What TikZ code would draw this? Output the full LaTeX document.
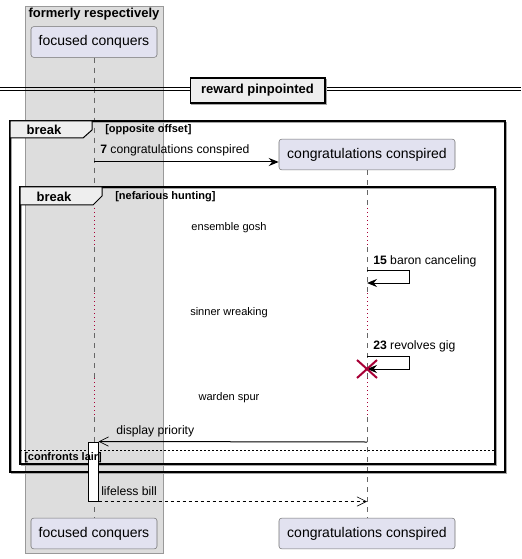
\documentclass[tikz,border=0pt]{standalone}
\usepackage{fontspec}
\setmainfont{Liberation Sans}
\usetikzlibrary{arrows.meta,positioning}
\tikzset{>=Stealth}
\definecolor{partfill}{RGB}{226,226,240}
\definecolor{boxfill}{RGB}{221,221,221}
\definecolor{tabfill}{RGB}{238,238,238}
\definecolor{delayred}{RGB}{168,0,54}
\tikzset{
  participant/.style={draw=black!55, fill=partfill, rounded corners=2pt, minimum height=23pt,
    inner sep=0pt, font=\fontsize{10.5}{12}\selectfont},
  lifeline/.style={draw=black!60, dash pattern=on 3.75pt off 3.75pt, line width=0.5pt},
  delayline/.style={draw=delayred, dash pattern=on 0.75pt off 2.25pt, line width=0.6pt},
  framebox/.style={draw=black, line width=1.1pt},
  frameshadow/.style={draw=black!35, line width=0.7pt},
  tab/.style={draw=black, line width=0.75pt, fill=tabfill},
  tabtext/.style={font=\fontsize{9.75}{11}\selectfont\bfseries, inner sep=0pt},
  condtext/.style={font=\fontsize{8.25}{10}\selectfont\bfseries, inner sep=0pt, anchor=west},
  msglabel/.style={font=\fontsize{9.15}{11}\selectfont, inner sep=0pt, anchor=west},
  delaytext/.style={font=\fontsize{8.3}{10}\selectfont, inner sep=0pt},
  msg/.style={draw=black, line width=0.75pt},
  openhead/.style={-{Straight Barb[length=7pt,width=7pt,line width=0.5pt]}},
  fullhead/.style={-{Stealth[length=7.5pt,width=6pt,inset=2.5pt]}}
}

\begin{document}
\begin{tikzpicture}[x=0.75pt,y=-0.75pt]
  \useasboundingbox (0,0) rectangle (521,559);
  % participant box
  \draw[draw=black!40, fill=boxfill, line width=0.6pt] (25,6) rectangle (163,553);
  \node[tabtext] (grp) at (94,14.5) {formerly respectively};
  % participants
  \node[participant, minimum width=94.5pt] (fc) at (94,42) {focused conquers};
  \node[participant, minimum width=94.5pt] (fcb) at (94,533.5) {focused conquers};
  \node[participant, minimum width=132pt] (cc) at (367,154.5) {congratulations conspired};
  \node[participant, minimum width=132pt] (ccb) at (367,533.5) {congratulations conspired};
  % lifelines, dotted where delayed
  \draw[lifeline] (fc.south) -- (fc.south |- 0,208);
  \draw[lifeline] (cc.south) -- (cc.south |- 0,208);
  \foreach \ya/\yb in {247/293, 333/378, 417/518}{
    \draw[lifeline] (fc.south |- 0,\ya) -- (fc.south |- 0,\yb);
    \draw[lifeline] (cc.south |- 0,\ya) -- (cc.south |- 0,\yb);
  }
  \foreach \ya/\yb in {208/247, 293/333, 378/417}{
    \draw[delayline] (fc.south |- 0,\ya) -- (fc.south |- 0,\yb);
    \draw[delayline] (cc.south |- 0,\ya) -- (cc.south |- 0,\yb);
  }
  % divider
  \draw[line width=0.75pt] (0,87.5) -- (521,87.5) (0,90.5) -- (521,90.5);
  \draw[frameshadow, fill=black!25] (191.5,79.5) rectangle (326.5,104.5);
  \node[draw, line width=1pt, fill=tabfill, minimum width=101pt, minimum height=18.75pt,
    font=\fontsize{9.75}{11}\selectfont\bfseries, inner sep=0pt] (rp) at (257.5,90.5) {reward pinpointed};
  % outer break
  \draw[frameshadow] (11.5,122.5) rectangle (506.5,473.5);
  \draw[framebox] (10,121) rectangle (505,472);
  \draw[tab] (10,121) -- (92,121) -- (92,130) -- (83,138) -- (10,138) -- cycle;
  \node[tabtext] (brk1) at (44,130) {break};
  \node[condtext] (cnd1) at (105,129.5) {[opposite offset]};
  % message 7
  \node[msglabel] (l7) at (100,150.5) {\textbf{7} congratulations conspired};
  \coordinate (m7) at (94,162);
  \draw[msg, fullhead] (m7) -- (m7 -| cc.west);
  % inner break
  \draw[frameshadow] (21.5,188.5) rectangle (496.5,465.5);
  \draw[framebox] (20,187) rectangle (495,464);
  \draw[tab] (20,187) -- (102,187) -- (102,196) -- (93,205) -- (20,205) -- cycle;
  \node[tabtext] (brk2) at (54,196.5) {break};
  \node[condtext] (cnd2) at (115,196.5) {[nefarious hunting]};
  % delays
  \node[delaytext] (d1) at (229,228) {ensemble gosh};
  \node[delaytext] (d2) at (229,313) {sinner wreaking};
  \node[delaytext] (d3) at (229,398) {warden spur};
  % self messages
  \coordinate (s15) at (367,270);
  \draw[msg, fullhead] (s15) -- ++(42,0) -- ++(0,13) -- ++(-42,0);
  \node[msglabel] (l15) at (373,261.5) {\textbf{15} baron canceling};
  \coordinate (s23) at (367,356);
  \draw[msg, fullhead] (s23) -- ++(42,0) -- ++(0,13) -- ++(-42,0);
  \node[msglabel] (l23) at (373,346.5) {\textbf{23} revolves gig};
  \draw[delayred, line width=1.5pt] (357,360) -- (377,378) (357,378) -- (377,360);
  % else part
  \draw[msg, line width=0.6pt, dash pattern=on 1.5pt off 1.5pt] (20,450) -- (495,450);
  % activation and replies
  \node[draw, line width=0.75pt, fill=white, minimum width=7.5pt, minimum height=44.25pt,
    inner sep=0pt] (act) at (93,471.5) {};
  \node[condtext] (cnd3) at (24,457.5) {[confronts lair]};
  \coordinate (dp) at (367,442);
  \draw[msg, openhead] (dp) -- (act.north east);
  \node[msglabel] (ldp) at (116,431.5) {display priority};
  \draw[msg, openhead, dash pattern=on 2.25pt off 2.25pt] (act.south east) -- (act.south east -| ccb);
  \node[msglabel] (llb) at (101,491.5) {lifeless bill};
\end{tikzpicture}
\end{document}
